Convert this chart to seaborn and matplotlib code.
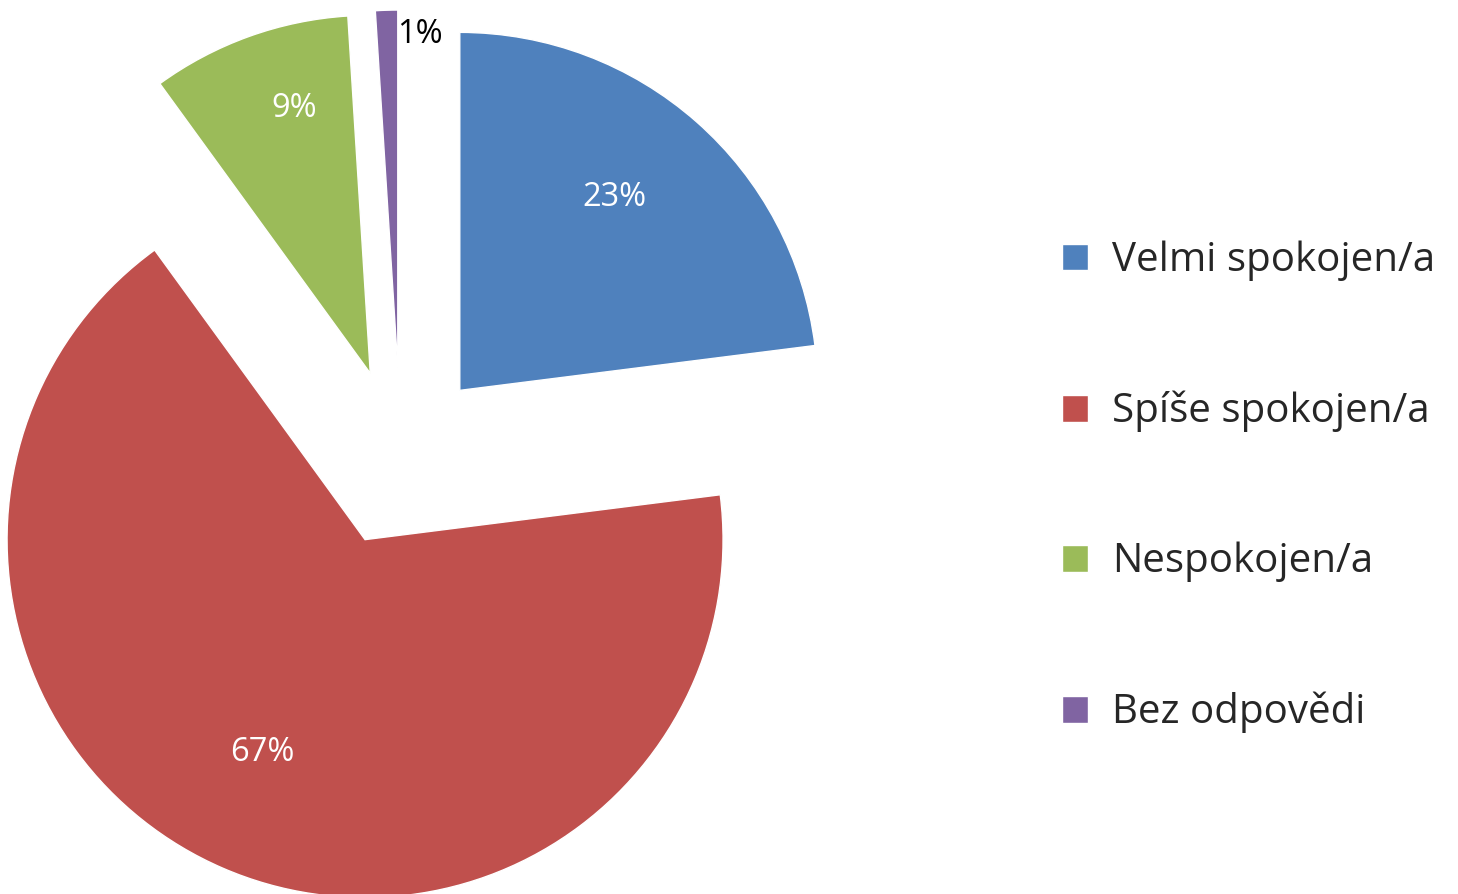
import numpy as np
import matplotlib
matplotlib.use('Agg')
import matplotlib.pyplot as plt
import seaborn as sns

# data
categories = ['Velmi spokojen/a', 'Spíše spokojen/a', 'Nespokojen/a', 'Bez odpovědi']
values = [23, 67, 9, 1]
colors = ['#4F81BD', '#C0504D', '#9BBB59', '#8064A2']

sns.set_theme(style='white')
plt.rcParams['font.family'] = ['Open Sans', 'DejaVu Sans']

W, H = 1458, 894
fig = plt.figure(figsize=(W / 100, H / 100), dpi=100)
ax = fig.add_axes([0, 0, 1, 1])

wedges, texts, autotexts = ax.pie(
    values, colors=sns.color_palette(colors), startangle=90, counterclock=False,
    explode=[0.25] * 4, autopct='%1.0f%%', pctdistance=0.68,
    textprops=dict(color='white', fontsize=23.5))

# label distances like the excel "best fit" placement
label_dist = [0.69, 0.66, 0.77, 0.935]
label_shift = [2.7, -2.4, -3.7, -5.6]
for w, t, d, s in zip(wedges, autotexts, label_dist, label_shift):
    ang = np.deg2rad((w.theta1 + w.theta2) / 2 + s)
    cx, cy = w.center
    t.set_position((cx + d * np.cos(ang), cy + d * np.sin(ang)))
autotexts[3].set_color('black')

# pixel-accurate framing: pie centre at (400.6, 457.5) px, radius 358 px
r_px = 358
cx_px, cy_px = 400.6, 457.5
ax.set_xlim(-cx_px / r_px, (W - cx_px) / r_px)
ax.set_ylim(-(H - cy_px) / r_px, cy_px / r_px)
ax.set_aspect('equal')
ax.axis('off')

ax.legend(wedges, categories, loc='center left',
          bbox_to_anchor=(1062 / W, 1 - 487 / H), bbox_transform=fig.transFigure,
          frameon=False, fontsize=29, labelspacing=2.72, handlelength=0.65,
          handleheight=0.65, handletextpad=0.6, borderpad=0, borderaxespad=0)

plt.savefig('out.png', dpi=100)
plt.close()
